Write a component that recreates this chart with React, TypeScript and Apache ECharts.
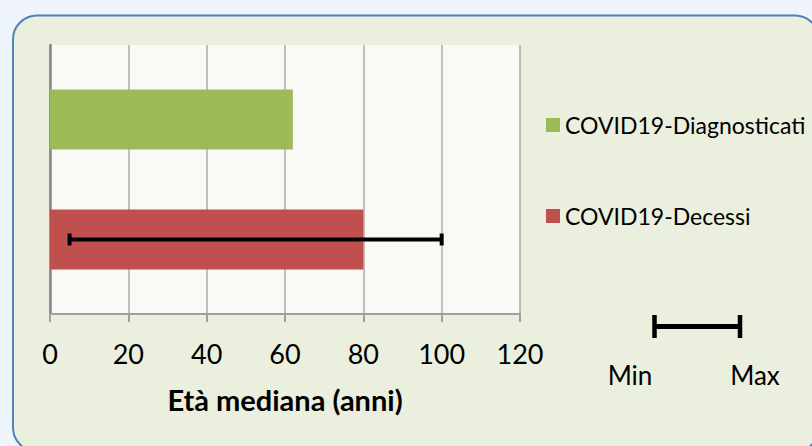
import React, { useEffect, useRef } from "react";
import * as echarts from "echarts";

// ---- data ----
const categories = [""];
const seriesNames = ["COVID19-Diagnosticati", "COVID19-Decessi"];
const diagnosticati = [62];
const decessi = [80];
const decessiMin = [5];
const decessiMax = [100];
const xTickLabels = [0, 20, 40, 60, 80, 100, 120];
const xAxisTitle = "Età mediana (anni)";
const errorLegendLabels = ["Min", "Max"];

// ---- style ----
const FONT = "Lato";
const GREEN = "#9bbb59";
const RED = "#c0504d";
const BAR_WIDTH = 60;
const BAR_GAP = 1; // 100%
const ERR_OFFSET = (BAR_WIDTH * (1 + BAR_GAP)) / 2;

export default function App() {
  const ref = useRef<HTMLDivElement>(null);
  useEffect(() => {
    if (!ref.current) return;
    const chart = echarts.init(ref.current, null, { renderer: "svg" });
    const step = xTickLabels[1] - xTickLabels[0];
    const option: any = {
      animation: false,
      backgroundColor: "#eff4fc",
      graphic: [
        {
          type: "rect",
          z: -10,
          shape: { x: 13, y: 15.5, width: 806, height: 436, r: 24 },
          style: { fill: "#ebefde", stroke: "#4f81bd", lineWidth: 2 },
        },
        // error-bar legend key
        {
          type: "line",
          z: 10,
          shape: { x1: 654, y1: 326.5, x2: 741, y2: 326.5 },
          style: { stroke: "#000", lineWidth: 5 },
        },
        {
          type: "line",
          z: 10,
          shape: { x1: 654.5, y1: 315, x2: 654.5, y2: 338 },
          style: { stroke: "#000", lineWidth: 4.5 },
        },
        {
          type: "line",
          z: 10,
          shape: { x1: 740, y1: 315, x2: 740, y2: 338 },
          style: { stroke: "#000", lineWidth: 4.5 },
        },
        {
          type: "text",
          z: 10,
          x: 630,
          y: 375,
          style: {
            text: errorLegendLabels[0],
            font: `26px ${FONT}`,
            fill: "#000",
            textAlign: "center",
            textVerticalAlign: "middle",
          },
        },
        {
          type: "text",
          z: 10,
          x: 755,
          y: 375,
          style: {
            text: errorLegendLabels[1],
            font: `26px ${FONT}`,
            fill: "#000",
            textAlign: "center",
            textVerticalAlign: "middle",
          },
        },
      ],
      legend: {
        orient: "vertical",
        left: 541,
        top: 108,
        icon: "rect",
        itemWidth: 14,
        itemHeight: 14,
        itemGap: 67,
        data: seriesNames,
        textStyle: {
          fontFamily: FONT,
          fontSize: 23,
          lineHeight: 24,
          color: "#000",
        },
      },
      grid: {
        left: 50,
        top: 45,
        right: 292,
        bottom: 132,
        show: true,
        backgroundColor: "#f9faf5",
        borderWidth: 0,
      },
      xAxis: {
        type: "value",
        min: xTickLabels[0],
        max: xTickLabels[xTickLabels.length - 1],
        interval: step,
        axisLine: { show: true, lineStyle: { color: "#a0a0a0", width: 2 } },
        axisTick: { show: true, length: 8, lineStyle: { color: "#a0a0a0", width: 2 } },
        splitLine: { show: true, lineStyle: { color: "#ababab", width: 1.5 } },
        axisLabel: {
          fontFamily: FONT,
          fontSize: 27,
          color: "#000",
          margin: 26,
        },
        name: xAxisTitle,
        nameLocation: "middle",
        nameGap: 71,
        nameTextStyle: {
          fontFamily: FONT,
          fontSize: 29,
          fontWeight: "bold",
          color: "#000",
        },
      },
      yAxis: {
        type: "category",
        data: categories,
        axisLine: { show: true, lineStyle: { color: "#868686", width: 2.5 } },
        axisTick: { show: false },
        axisLabel: { show: false },
        splitLine: { show: false },
      },
      series: [
        {
          name: seriesNames[0],
          type: "bar",
          data: diagnosticati,
          barWidth: BAR_WIDTH,
          barGap: `${BAR_GAP * 100}%`,
          itemStyle: { color: GREEN },
        },
        {
          name: seriesNames[1],
          type: "bar",
          data: decessi,
          barWidth: BAR_WIDTH,
          barGap: `${BAR_GAP * 100}%`,
          itemStyle: { color: RED },
        },
        {
          name: "errore",
          type: "custom",
          z: 5,
          data: decessiMin.map((m, i) => [m, decessiMax[i], i]),
          encode: { x: [0, 1], y: 2 },
          renderItem: (params: any, api: any) => {
            const lo = api.coord([api.value(0), api.value(2)]);
            const hi = api.coord([api.value(1), api.value(2)]);
            const y = lo[1] + ERR_OFFSET;
            const st = { stroke: "#000", lineWidth: 4 };
            return {
              type: "group",
              children: [
                { type: "line", shape: { x1: lo[0], y1: y, x2: hi[0], y2: y }, style: st },
                { type: "line", shape: { x1: lo[0], y1: y - 6, x2: lo[0], y2: y + 6 }, style: st },
                { type: "line", shape: { x1: hi[0], y1: y - 6, x2: hi[0], y2: y + 6 }, style: st },
              ],
            };
          },
        },
      ],
    };
    chart.setOption(option);
    return () => chart.dispose();
  }, []);
  return (
    <div
      ref={ref}
      style={{ position: "fixed", left: 0, top: 0, width: 812, height: 446 }}
    />
  );
}
